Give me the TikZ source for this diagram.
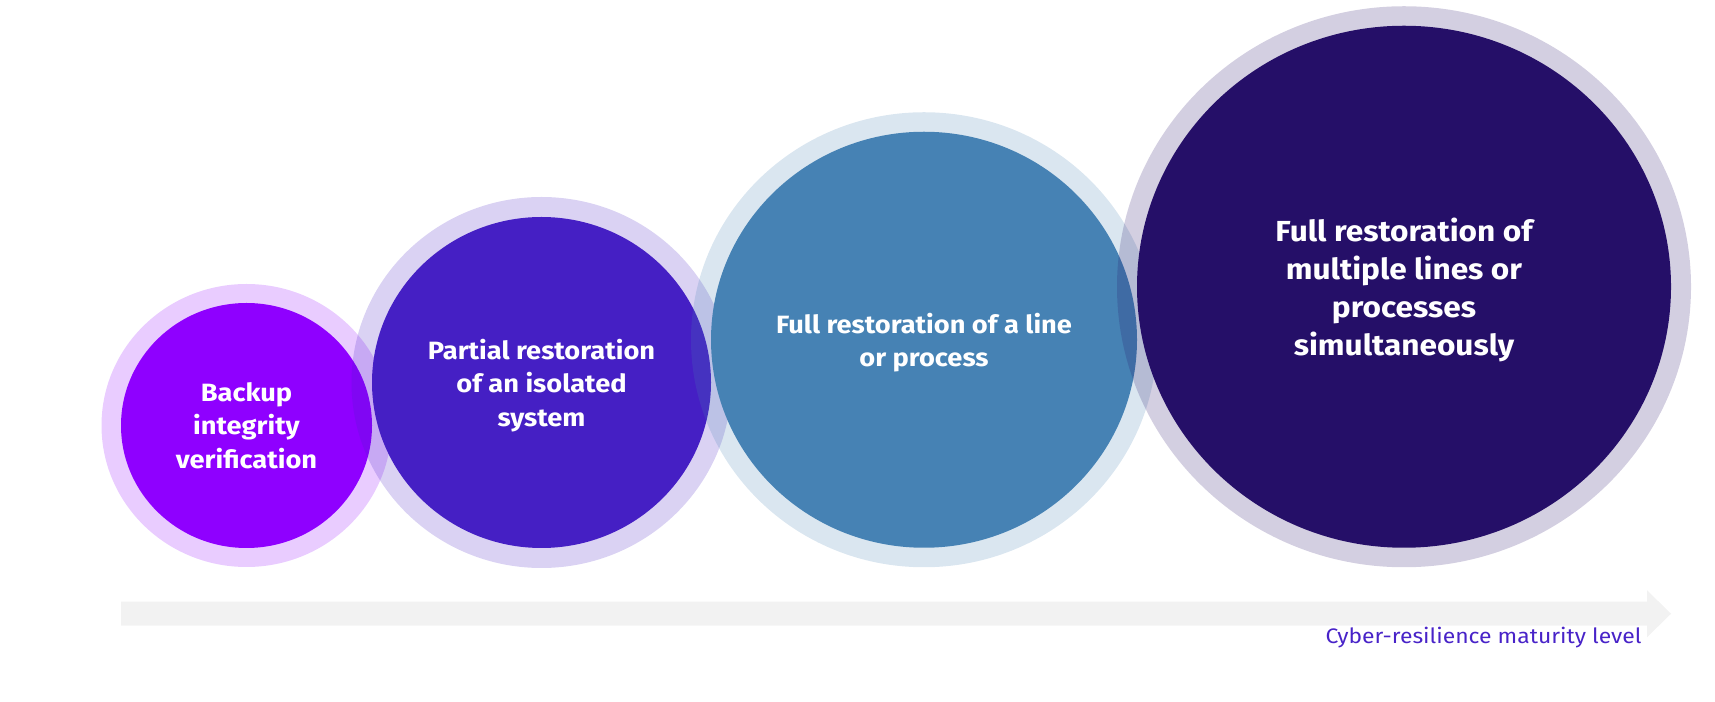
\documentclass[tikz,border=0pt]{standalone}
\usepackage{fontspec}
\setmainfont{Fira Sans}[FakeStretch=1.09]
\usepackage{tikz}
\usetikzlibrary{shapes.geometric}
\definecolor{violetfill}{RGB}{143   0 255}
\definecolor{indigofill}{RGB}{ 69  31 196}
\definecolor{steelfill}{RGB}{ 70 130 180}
\definecolor{navyfill}{RGB}{ 37  15 104}
\definecolor{axisgrey}{RGB}{242 242 242}
\definecolor{labelblue}{RGB}{ 72  35 200}
\tikzstyle{halo} = [ellipse, inner sep=0pt, fill opacity=0.2]
\tikzstyle{stage} = [ellipse, inner sep=0pt, text depth=0pt, text=white, align=center, font=\bfseries\fontsize{25}{33.5}\selectfont]
\tikzstyle{bigstage} = [stage, font=\bfseries\fontsize{29}{38.3}\selectfont]
\tikzstyle{axis} = [fill=axisgrey]

\begin{document}
\begin{tikzpicture}[x=1pt, y=1pt, node distance={300pt}]
        \useasboundingbox (0,0) rectangle (1715,701);
        \node (verifyring) [halo, fill=violetfill, minimum width=290pt, minimum height=283pt] at (246.5,275.5) {};
        \node (verify) [stage, fill=violetfill, minimum width=251pt, minimum height=245pt] at (verifyring) {Backup\\integrity\\verification};
        \node (partialring) [halo, fill=indigofill, minimum width=380pt, minimum height=371pt, right of=verify, xshift=-5pt, yshift=43pt] {};
        \node (partial) [stage, fill=indigofill, minimum width=339pt, minimum height=331pt] at (partialring) {Partial restoration\\of an isolated\\system};
        \node (fullring) [halo, fill=steelfill, minimum width=466pt, minimum height=455pt, right of=partial, xshift=82.5pt, yshift=42.75pt] {};
        \node (full) [stage, fill=steelfill, minimum width=426pt, minimum height=416pt] at (fullring) {Full restoration of a line\\or process};
        \node (multiring) [halo, fill=navyfill, minimum width=574pt, minimum height=561pt, right of=full, xshift=180pt, yshift=53pt] {};
        \node (multi) [bigstage, fill=navyfill, minimum width=534pt, minimum height=522pt] at (multiring) {Full restoration of\\multiple lines or\\processes\\simultaneously};
        % maturity axis
        \coordinate (axisstart) at (121,87.25);
        \coordinate (axisend) at (1671,87.25);
        \fill [axis] (axisstart) ++(0,12) -- ([xshift=-24pt, yshift=12pt]axisend) -- ++(0,11.5) -- (axisend) -- ++(-24,-23.5) -- ++(0,11.5) -- ([yshift=-12pt]axisstart) -- cycle;
        \node (maturity) [anchor=base east, text=labelblue, font=\fontsize{21}{24}\selectfont] at (1645,57) {Cyber-resilience maturity level};
    \end{tikzpicture}
\end{document}
